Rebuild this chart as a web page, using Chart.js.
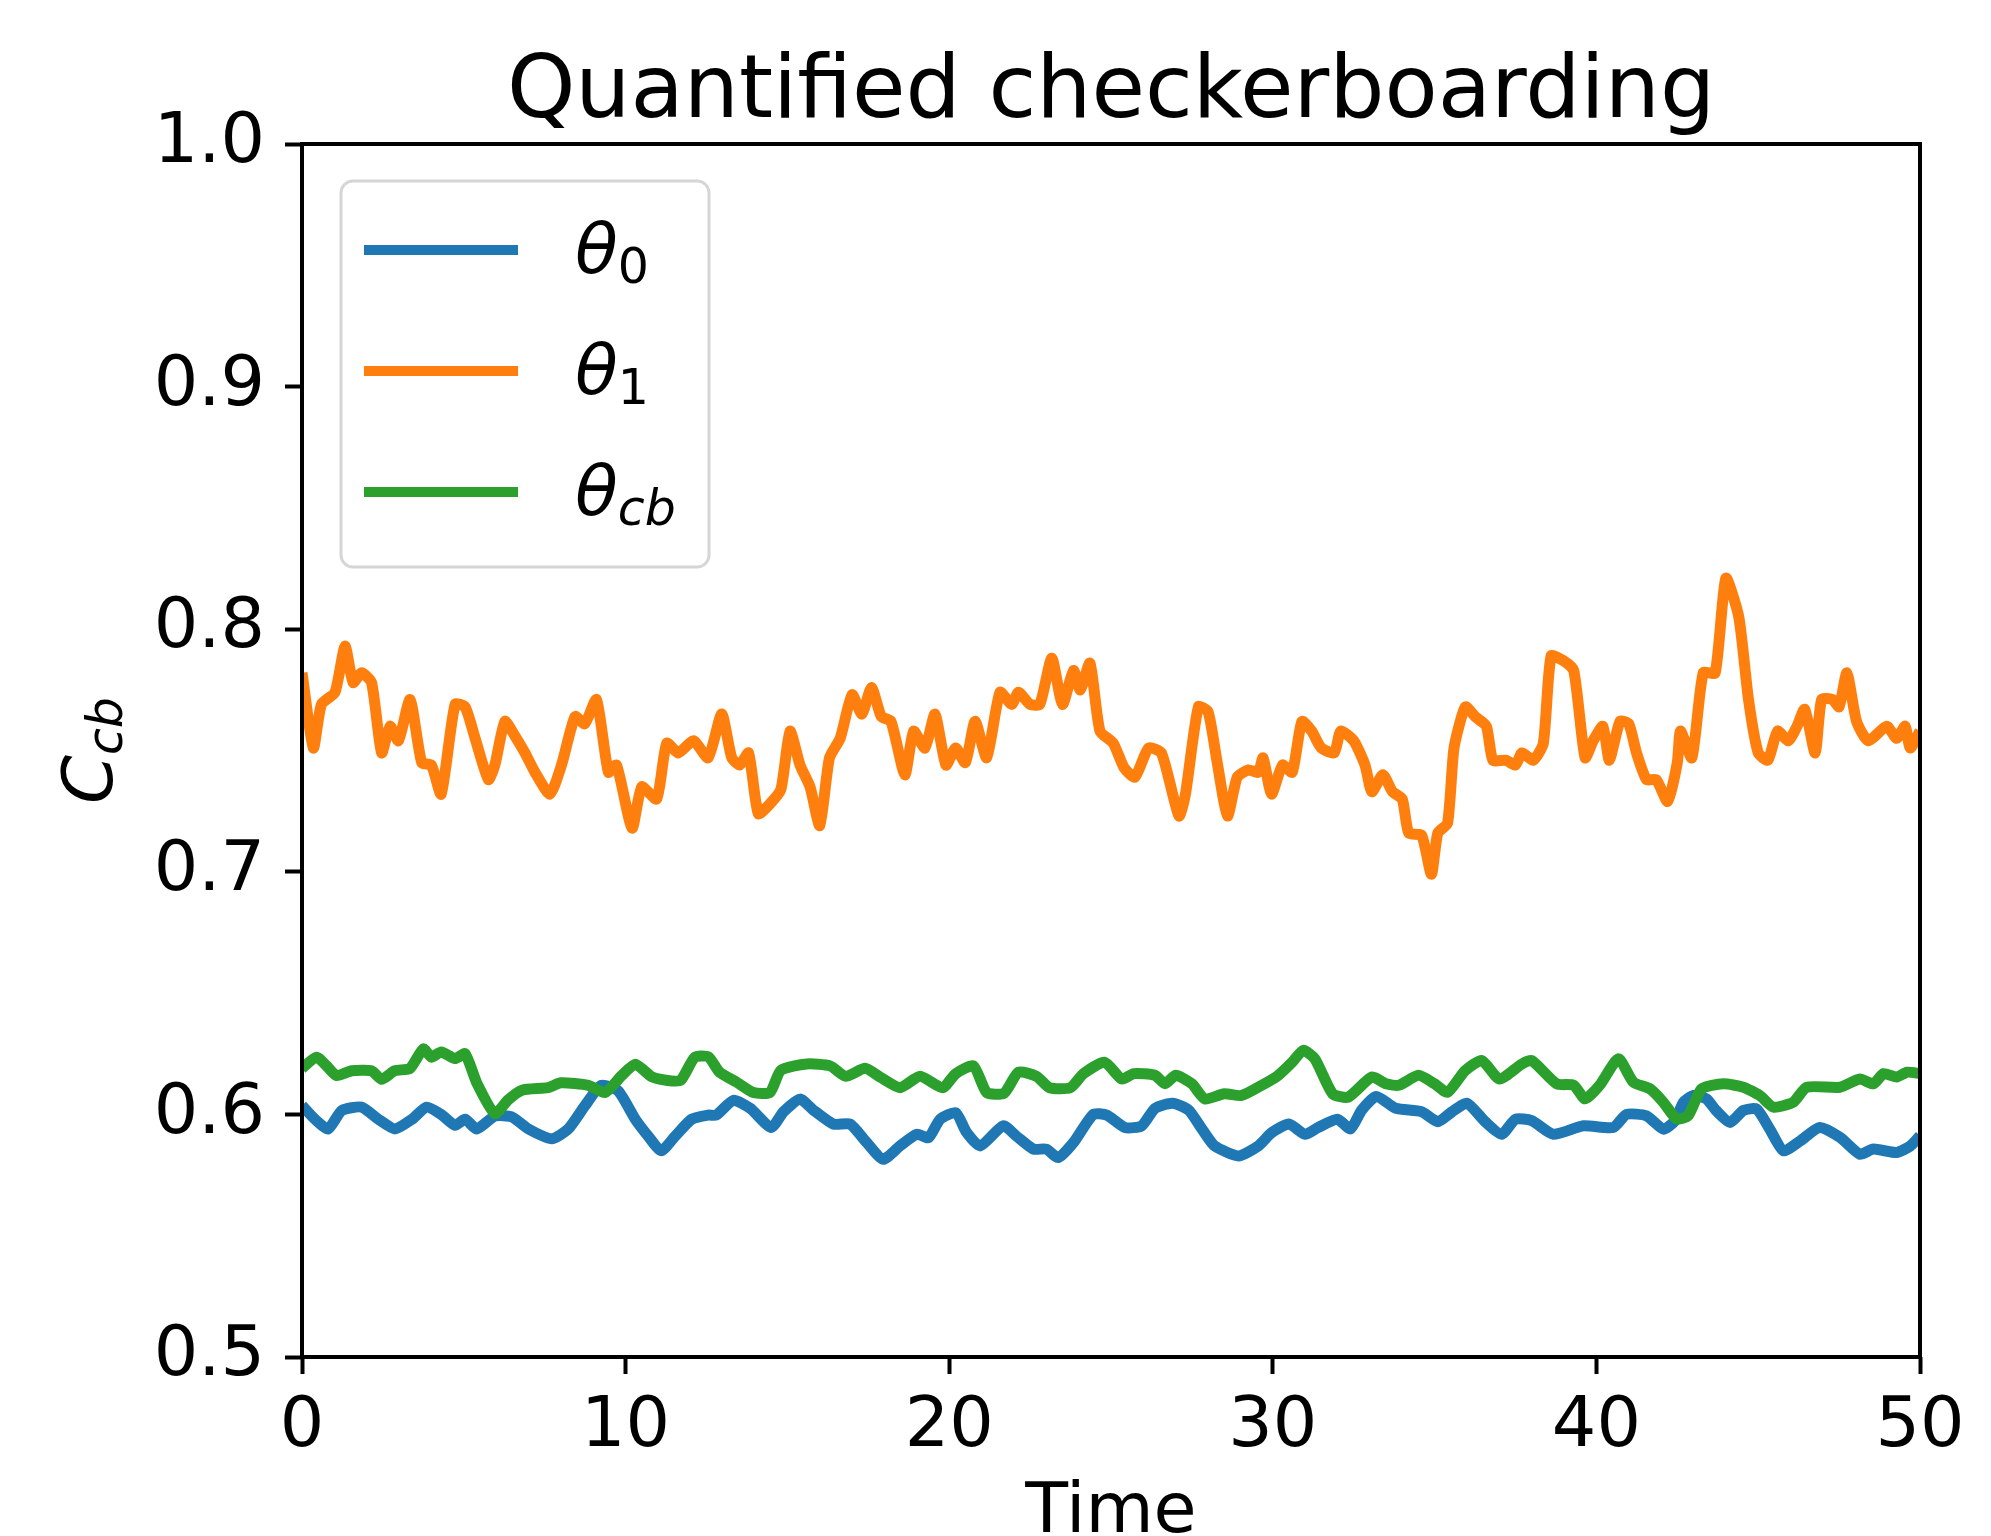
<!DOCTYPE html>
<html>
<head>
<meta charset="utf-8">
<script src="https://cdn.jsdelivr.net/npm/chart.js@4.4.0/dist/chart.umd.min.js"></script>
<style>
  html, body { margin: 0; padding: 0; background: #fff; }
  #chart { display: block; }
</style>
</head>
<body>
<canvas id="chart" width="1991" height="1536"></canvas>
<script>
// values
const timeTheta0 = [0, 0.4, 0.81, 1.23, 1.84, 2.36, 2.87, 3.4, 3.85, 4.3, 4.73, 5.04, 5.4, 5.96, 6.48, 7.0, 7.72, 8.23, 8.75, 9.25, 9.77, 10.3, 10.7, 11.1, 11.53, 12.04, 12.55, 12.8, 13.33, 13.85, 14.5, 14.88, 15.39, 15.8, 16.42, 16.94, 17.45, 17.96, 18.48, 19.0, 19.36, 19.72, 20.2, 20.54, 20.96, 21.67, 22.08, 22.6, 23.0, 23.37, 23.84, 24.45, 24.87, 25.43, 25.95, 26.36, 26.9, 27.4, 27.8, 28.2, 28.94, 29.55, 29.97, 30.5, 31.0, 31.4, 32.0, 32.4, 32.75, 33.2, 33.8, 34.6, 35.1, 35.54, 36.0, 36.56, 37.07, 37.5, 38.0, 38.67, 39.6, 40.52, 40.93, 41.55, 42.07, 42.43, 42.69, 43.0, 43.4, 43.7, 44.13, 44.54, 44.95, 45.36, 45.78, 46.3, 46.9, 47.53, 48.14, 48.56, 49.28, 49.7, 50.0];
const theta0 = [0.6037, 0.598, 0.594, 0.6016, 0.603, 0.598, 0.594, 0.598, 0.603, 0.600, 0.5955, 0.598, 0.594, 0.5993, 0.599, 0.594, 0.590, 0.594, 0.6037, 0.612, 0.6097, 0.598, 0.591, 0.585, 0.591, 0.598, 0.5997, 0.5997, 0.6058, 0.6025, 0.5946, 0.6011, 0.6063, 0.6018, 0.596, 0.596, 0.5884, 0.5815, 0.587, 0.5918, 0.5904, 0.598, 0.6007, 0.5925, 0.587, 0.5953, 0.591, 0.5857, 0.5857, 0.5822, 0.5884, 0.600, 0.5997, 0.5946, 0.5953, 0.6025, 0.6046, 0.6018, 0.5942, 0.587, 0.5829, 0.587, 0.5925, 0.596, 0.5918, 0.5946, 0.598, 0.594, 0.6018, 0.6074, 0.6025, 0.6011, 0.597, 0.6011, 0.6046, 0.597, 0.5918, 0.598, 0.5974, 0.5918, 0.5953, 0.5946, 0.600, 0.5994, 0.5939, 0.5974, 0.605, 0.6078, 0.6064, 0.6016, 0.5967, 0.6016, 0.6022, 0.5939, 0.585, 0.5891, 0.5946, 0.5905, 0.5836, 0.5857, 0.5843, 0.587, 0.5912];

const timeTheta1 = [0, 0.35, 0.6, 1.02, 1.33, 1.58, 1.84, 2.15, 2.46, 2.72, 2.98, 3.34, 3.7, 4.0, 4.3, 4.73, 5.04, 5.35, 5.76, 5.96, 6.27, 6.58, 6.89, 7.2, 7.66, 8.02, 8.44, 8.74, 9.1, 9.47, 9.72, 10.2, 10.5, 10.96, 11.27, 11.63, 12.1, 12.55, 12.97, 13.28, 13.53, 13.8, 14.1, 14.46, 14.8, 15.08, 15.39, 15.7, 16.0, 16.3, 16.63, 17.0, 17.3, 17.6, 17.9, 18.2, 18.63, 18.9, 19.25, 19.56, 19.9, 20.2, 20.5, 20.8, 21.16, 21.57, 21.93, 22.14, 22.5, 22.8, 23.17, 23.5, 23.84, 24.05, 24.35, 24.66, 25.07, 25.4, 25.74, 26.16, 26.56, 27.1, 27.3, 27.7, 28.0, 28.27, 28.6, 28.9, 29.25, 29.55, 29.7, 29.96, 30.3, 30.6, 30.9, 31.2, 31.5, 31.9, 32.1, 32.5, 32.85, 33.06, 33.4, 33.7, 34.0, 34.2, 34.6, 34.9, 35.1, 35.4, 35.6, 35.95, 36.25, 36.6, 36.8, 37.2, 37.5, 37.7, 38.05, 38.36, 38.6, 38.98, 39.3, 39.65, 39.9, 40.2, 40.4, 40.73, 41.0, 41.24, 41.55, 41.85, 42.2, 42.5, 42.6, 42.95, 43.3, 43.67, 44.0, 44.4, 44.7, 45.0, 45.3, 45.6, 45.93, 46.2, 46.44, 46.76, 46.96, 47.3, 47.5, 47.74, 48.04, 48.4, 48.97, 49.28, 49.54, 49.7, 50.0];
const theta1 = [0.782, 0.751, 0.769, 0.774, 0.793, 0.778, 0.782, 0.778, 0.749, 0.760, 0.754, 0.771, 0.745, 0.744, 0.732, 0.769, 0.768, 0.755, 0.738, 0.744, 0.762, 0.756, 0.749, 0.741, 0.732, 0.744, 0.764, 0.761, 0.771, 0.741, 0.744, 0.718, 0.735, 0.730, 0.753, 0.749, 0.754, 0.747, 0.765, 0.747, 0.744, 0.749, 0.724, 0.728, 0.734, 0.758, 0.744, 0.735, 0.719, 0.747, 0.755, 0.773, 0.765, 0.776, 0.764, 0.762, 0.740, 0.758, 0.751, 0.765, 0.744, 0.751, 0.745, 0.762, 0.747, 0.774, 0.769, 0.774, 0.769, 0.769, 0.788, 0.769, 0.783, 0.775, 0.786, 0.758, 0.753, 0.743, 0.739, 0.751, 0.749, 0.723, 0.732, 0.768, 0.766, 0.746, 0.723, 0.739, 0.742, 0.741, 0.747, 0.732, 0.744, 0.741, 0.762, 0.758, 0.751, 0.749, 0.758, 0.754, 0.744, 0.733, 0.740, 0.733, 0.730, 0.716, 0.715, 0.699, 0.716, 0.720, 0.751, 0.768, 0.764, 0.760, 0.746, 0.746, 0.744, 0.749, 0.746, 0.753, 0.789, 0.787, 0.783, 0.747, 0.754, 0.760, 0.746, 0.762, 0.761, 0.749, 0.738, 0.738, 0.729, 0.745, 0.758, 0.747, 0.782, 0.782, 0.821, 0.805, 0.771, 0.749, 0.746, 0.758, 0.754, 0.760, 0.767, 0.749, 0.771, 0.771, 0.768, 0.782, 0.762, 0.754, 0.760, 0.755, 0.760, 0.751, 0.758];

const timeThetaCb = [0, 0.45, 0.76, 1.07, 1.54, 2.15, 2.46, 2.87, 3.34, 3.75, 4.0, 4.3, 4.73, 5.04, 5.4, 5.96, 6.37, 6.8, 7.6, 8.0, 8.85, 9.36, 9.88, 10.3, 10.8, 11.3, 11.7, 12.14, 12.56, 12.9, 13.43, 13.95, 14.46, 14.8, 15.6, 16.32, 16.8, 17.4, 17.86, 18.48, 19.1, 19.8, 20.2, 20.75, 21.16, 21.7, 22.14, 22.7, 23.1, 23.74, 24.15, 24.8, 25.33, 25.7, 26.36, 26.67, 27.0, 27.5, 27.9, 28.5, 29.04, 29.66, 30.17, 30.6, 30.94, 31.3, 31.85, 32.33, 33.06, 33.5, 33.9, 34.5, 35.0, 35.4, 35.94, 36.46, 37.0, 37.7, 38.0, 38.77, 39.3, 39.65, 40.1, 40.68, 41.14, 41.66, 42.07, 42.48, 42.84, 43.25, 43.92, 44.54, 45.05, 45.47, 46.08, 46.5, 47.53, 48.14, 48.56, 48.87, 49.28, 49.6, 50.0];
const thetaCb = [0.619, 0.6236, 0.620, 0.616, 0.618, 0.618, 0.6145, 0.618, 0.619, 0.627, 0.6236, 0.6257, 0.623, 0.625, 0.613, 0.6003, 0.606, 0.610, 0.611, 0.613, 0.612, 0.609, 0.616, 0.6207, 0.6156, 0.614, 0.614, 0.6236, 0.6237, 0.6174, 0.6133, 0.609, 0.609, 0.6182, 0.6208, 0.620, 0.6157, 0.619, 0.6154, 0.611, 0.6157, 0.611, 0.6168, 0.620, 0.609, 0.6088, 0.6174, 0.6157, 0.611, 0.611, 0.6168, 0.6215, 0.6146, 0.6168, 0.6161, 0.6126, 0.6161, 0.6126, 0.6064, 0.6085, 0.6078, 0.612, 0.6161, 0.6215, 0.6264, 0.6229, 0.6085, 0.6071, 0.6154, 0.6126, 0.612, 0.6161, 0.6126, 0.6091, 0.618, 0.6222, 0.6146, 0.6208, 0.6222, 0.6126, 0.612, 0.6064, 0.612, 0.6229, 0.6133, 0.6105, 0.605, 0.5981, 0.5995, 0.6105, 0.6126, 0.6112, 0.6078, 0.603, 0.605, 0.6112, 0.6112, 0.6146, 0.6126, 0.6168, 0.6154, 0.6174, 0.6168];

const xTicks = [0, 10, 20, 30, 40, 50];
const yTicks = [0.5, 0.6, 0.7, 0.8, 0.9, 1.0];

const FONT = 'DejaVu Sans';

function toPoints(ts, vs) {
    return ts.map((t, i) => ({ x: t, y: vs[i] }));
}

// spines, title, axis labels and the legend (mathtext-style subscripts)
const decorations = {
    id: 'decorations',
    afterDraw(chart) {
        const ctx = chart.ctx;
        const area = chart.chartArea;
        const cx = (area.left + area.right) / 2;
        const cy = (area.top + area.bottom) / 2;
        ctx.save();

        // frame
        ctx.strokeStyle = '#000';
        ctx.lineWidth = 4;
        ctx.strokeRect(area.left, area.top, area.right - area.left, area.bottom - area.top);

        // title
        ctx.fillStyle = '#000';
        ctx.textAlign = 'center';
        ctx.textBaseline = 'alphabetic';
        ctx.font = `87px "${FONT}"`;
        ctx.fillText('Quantified checkerboarding', cx, 117);

        // x label
        ctx.font = `70px "${FONT}"`;
        ctx.fillText('Time', cx, 1532);

        // y label C_cb, rotated
        ctx.textAlign = 'left';
        ctx.font = `italic 70px "${FONT}"`;
        const wC = ctx.measureText('C').width;
        ctx.font = `italic 49px "${FONT}"`;
        const wSub = ctx.measureText('cb').width;
        ctx.save();
        ctx.translate(112, cy);
        ctx.rotate(-Math.PI / 2);
        const u0 = -(wC + wSub) / 2;
        ctx.font = `italic 70px "${FONT}"`;
        ctx.fillText('C', u0, 0);
        ctx.font = `italic 49px "${FONT}"`;
        ctx.fillText('cb', u0 + wC, 10);
        ctx.restore();

        // legend
        const box = { left: 341, top: 181, right: 709, bottom: 567, r: 12 };
        ctx.beginPath();
        ctx.roundRect(box.left, box.top, box.right - box.left, box.bottom - box.top, box.r);
        ctx.fillStyle = 'rgba(255,255,255,0.8)';
        ctx.fill();
        ctx.strokeStyle = '#d6d6d6';
        ctx.lineWidth = 3;
        ctx.stroke();

        const items = chart.data.datasets;
        items.forEach((ds, i) => {
            const yLine = 250 + i * 121;
            ctx.beginPath();
            ctx.moveTo(364, yLine);
            ctx.lineTo(518, yLine);
            ctx.strokeStyle = ds.borderColor;
            ctx.lineWidth = 10;
            ctx.lineCap = 'butt';
            ctx.stroke();

            const base = yLine + 23;
            ctx.fillStyle = '#000';
            ctx.font = `italic 70px "${FONT}"`;
            ctx.fillText('θ', 575, base);
            const wT = ctx.measureText('θ').width;
            ctx.font = (ds.sub === 'cb' ? 'italic ' : '') + `49px "${FONT}"`;
            ctx.fillText(ds.sub, 575 + wT, base + 10);
        });

        ctx.restore();
    }
};

const chart = new Chart(document.getElementById('chart').getContext('2d'), {
    type: 'line',
    data: {
        datasets: [
            { label: 'theta_0', sub: '0', data: toPoints(timeTheta0, theta0), borderColor: '#1f77b4', order: 3 },
            { label: 'theta_1', sub: '1', data: toPoints(timeTheta1, theta1), borderColor: '#ff7f0e', order: 2 },
            { label: 'theta_cb', sub: 'cb', data: toPoints(timeThetaCb, thetaCb), borderColor: '#2ca02c', order: 1 }
        ]
    },
    options: {
        responsive: false,
        animation: false,
        devicePixelRatio: 1,
        layout: { padding: { top: 144, right: 71, bottom: 0, left: 0 } },
        elements: {
            point: { radius: 0 },
            line: { borderWidth: 11, tension: 0.2, borderJoinStyle: 'round', fill: false }
        },
        plugins: {
            legend: { display: false },
            tooltip: { enabled: false }
        },
        scales: {
            x: {
                type: 'linear',
                min: 0,
                max: 50,
                afterFit: s => { s.height = 179; },
                afterBuildTicks: s => { s.ticks = xTicks.map(v => ({ value: v })); },
                border: { display: false },
                grid: { drawOnChartArea: false, tickLength: 17, tickWidth: 4, color: '#000' },
                ticks: { font: { family: FONT, size: 70 }, color: '#000', padding: 12, maxRotation: 0 }
            },
            y: {
                min: 0.5,
                max: 1.0,
                afterFit: s => { s.width = 302; },
                afterBuildTicks: s => { s.ticks = yTicks.map(v => ({ value: v })); },
                border: { display: false },
                grid: { drawOnChartArea: false, tickLength: 17, tickWidth: 4, color: '#000' },
                ticks: { font: { family: FONT, size: 70 }, color: '#000', padding: 20, callback: v => v.toFixed(1) }
            }
        }
    },
    plugins: [decorations]
});
</script>
</body>
</html>
